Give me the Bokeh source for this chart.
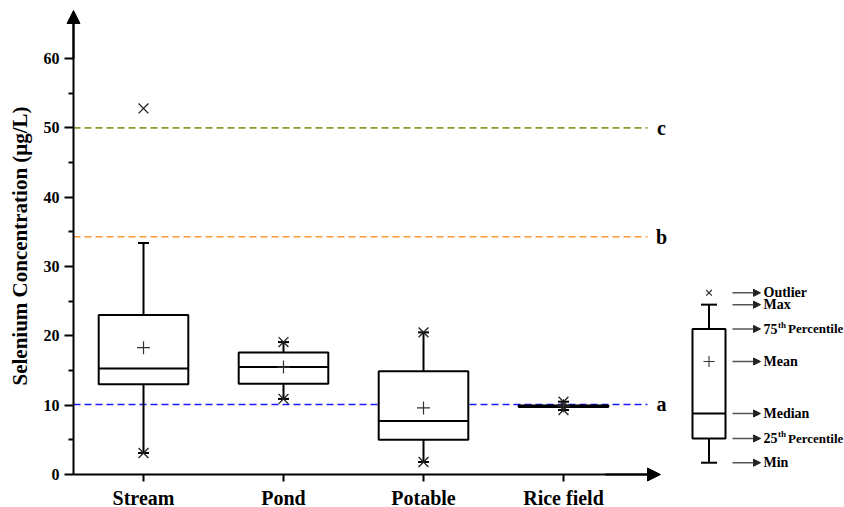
from bokeh.plotting import figure
from bokeh.models import (Range1d, LinearAxis, FixedTicker, Arrow, NormalHead,
                          ColumnDataSource)
from bokeh.core.properties import value
from bokeh.embed import file_html
from bokeh.resources import INLINE

# ---------------- data ----------------
categories = ["Stream", "Pond", "Potable", "Rice field"]
cat_pos = [1, 2, 3, 4]
q1 = [13.0, 13.1, 5.0, 9.75]
median = [15.3, 15.5, 7.7, 9.85]
q3 = [23.0, 17.6, 14.9, 9.95]
mean = [18.3, 15.5, 9.6, 9.9]
whisk_low = [3.1, 10.9, 1.8, 9.3]
whisk_high = [33.4, 19.1, 20.5, 10.5]

# asterisk-like markers (1st/99th percentile and outliers)
mark_cat = [1, 1, 2, 2, 3, 3, 4, 4]
mark_val = [3.1, 52.8, 19.1, 10.9, 20.5, 1.8, 10.5, 9.3]

# guideline values
ref_vals = [10.1, 34.3, 50.0]
ref_labels = ["a", "b", "c"]
ref_colors = ["#1a1aff", "#ff9933", "#8c9b2d"]

y_ticks = [0, 10, 20, 30, 40, 50, 60]
y_minor = [5, 15, 25, 35, 45, 55]

# schematic legend box values
leg_names = ["Outlier", "Max", "75", "Mean", "Median", "25", "Min"]
leg_vals = [26.2, 24.5, 21.0, 16.3, 8.8, 5.2, 1.7]

FONT = "Liberation Serif"
AXFONT = "'Liberation Serif', 'Times New Roman', serif"

# ---------------- geometry ----------------
PX_X = 140.0     # pixels per category unit
PX_Y = 6.933     # pixels per ug/L
W, H = 844, 507
x0 = 1 - 143 / PX_X
x1 = x0 + W / PX_X
y0 = -(H - 474) / PX_Y
y1 = y0 + H / PX_Y

p = figure(width=W, height=H, x_range=Range1d(x0, x1), y_range=Range1d(y0, y1),
           output_backend="svg", toolbar_location=None,
           x_axis_type=None, y_axis_type=None, min_border=0,
           min_border_left=0, min_border_right=0, min_border_top=0, min_border_bottom=0)
p.outline_line_color = None
p.background_fill_color = "white"
p.border_fill_color = "white"

x_axis_start = 1 + (73 - 143) / PX_X
x_tip = 1 + (660 - 143) / PX_X
y_tip = (474 - 10) / PX_Y

# ---------------- axes ----------------
yaxis = LinearAxis(fixed_location=x_axis_start, bounds=(0, y_tip - 1),
                   ticker=FixedTicker(ticks=y_ticks, minor_ticks=y_minor))
yaxis.axis_line_width = 2
yaxis.major_tick_line_width = 2
yaxis.minor_tick_line_width = 2
yaxis.major_tick_in = 0
yaxis.major_tick_out = 9
yaxis.minor_tick_in = 0
yaxis.minor_tick_out = 5
yaxis.major_label_text_font = AXFONT
yaxis.major_label_text_font_style = "bold"
yaxis.major_label_text_font_size = "16px"
yaxis.major_label_text_color = "black"
yaxis.major_label_standoff = 5
yaxis.axis_label = "Selenium Concentration (μg/L)"
yaxis.axis_label_text_font = AXFONT
yaxis.axis_label_text_font_style = "bold"
yaxis.axis_label_text_font_size = "21px"
yaxis.axis_label_text_color = "black"
yaxis.axis_label_standoff = 9
p.add_layout(yaxis, "left")

xaxis = LinearAxis(fixed_location=0, bounds=(x_axis_start, x_tip - 0.05),
                   ticker=FixedTicker(ticks=cat_pos, minor_ticks=[]))
xaxis.major_label_overrides = {c: n for c, n in zip(cat_pos, categories)}
xaxis.axis_line_width = 2
xaxis.major_tick_line_width = 2
xaxis.major_tick_in = 0
xaxis.major_tick_out = 7
xaxis.minor_tick_out = 0
xaxis.major_label_text_font = AXFONT
xaxis.major_label_text_font_style = "bold"
xaxis.major_label_text_font_size = "20px"
xaxis.major_label_text_color = "black"
xaxis.major_label_standoff = 5
p.add_layout(xaxis, "below")

p.add_layout(Arrow(x_start=x_axis_start, y_start=60, x_end=x_axis_start, y_end=y_tip,
                   line_width=2, line_color="black",
                   end=NormalHead(size=13, fill_color="black", line_color="black", line_width=1)))
p.add_layout(Arrow(x_start=4.3, y_start=0, x_end=x_tip, y_end=0,
                   line_width=2, line_color="black",
                   end=NormalHead(size=13, fill_color="black", line_color="black", line_width=1)))

# ---------------- reference lines ----------------
ref_x_end = 1 + (647 - 143) / PX_X
for v, lab, col in zip(ref_vals, ref_labels, ref_colors):
    p.segment(x0=[x_axis_start], y0=[v], x1=[ref_x_end], y1=[v], line_color=col,
              line_width=1.6, line_dash="7 4")
ref_src = ColumnDataSource(dict(x=[1 + (661 - 143) / PX_X] * 3, y=ref_vals, t=ref_labels))
p.text(x="x", y="y", text="t", source=ref_src, text_font=value(FONT),
       text_font_style="bold", text_font_size="20px", text_align="center",
       text_baseline="middle", text_color="black")

# ---------------- boxes ----------------
hw = 0.32
cap = 5.5 / PX_X
src = ColumnDataSource(dict(x=cat_pos, q1=q1, q3=q3, med=median, mean=mean,
                            lo=whisk_low, hi=whisk_high,
                            l=[c - hw for c in cat_pos], r=[c + hw for c in cat_pos],
                            cl=[c - cap for c in cat_pos], cr=[c + cap for c in cat_pos]))
p.segment(x0="x", y0="q3", x1="x", y1="hi", source=src, line_color="black", line_width=2)
p.segment(x0="x", y0="q1", x1="x", y1="lo", source=src, line_color="black", line_width=2)
p.segment(x0="cl", y0="hi", x1="cr", y1="hi", source=src, line_color="black", line_width=2)
p.segment(x0="cl", y0="lo", x1="cr", y1="lo", source=src, line_color="black", line_width=2)
p.quad(left="l", right="r", bottom="q1", top="q3", source=src, fill_color="white",
       line_color="black", line_width=2)
p.segment(x0="l", y0="med", x1="r", y1="med", source=src, line_color="black", line_width=2)
p.scatter(x="x", y="mean", source=src, marker="cross", size=13, line_width=1.2,
          line_color="#333333")
p.scatter(x=mark_cat, y=mark_val, marker="x", size=14, line_width=1.3, line_color="#222222")

# ---------------- schematic legend ----------------
lx = 1 + (708.5 - 143) / PX_X
lhw = 16.5 / PX_X
lcap = 8 / PX_X
o_, mx_, q3_, mn_, md_, q1_, mi_ = leg_vals
p.scatter(x=[lx], y=[o_], marker="x", size=8, line_width=1.2, line_color="#333333")
p.segment(x0=[lx, lx, lx - lcap, lx - lcap], y0=[mx_, q1_, mx_, mi_],
          x1=[lx, lx, lx + lcap, lx + lcap], y1=[q3_, mi_, mx_, mi_],
          line_color="black", line_width=2)
p.quad(left=[lx - lhw], right=[lx + lhw], bottom=[q1_], top=[q3_], fill_color="white",
       line_color="black", line_width=2)
p.segment(x0=[lx - lhw], y0=[md_], x1=[lx + lhw], y1=[md_], line_color="black", line_width=2)
p.scatter(x=[lx], y=[mn_], marker="cross", size=11, line_width=1.1, line_color="#333333")

ax0 = 1 + (732 - 143) / PX_X
ax1 = 1 + (760 - 143) / PX_X
for v in leg_vals:
    p.add_layout(Arrow(x_start=ax0, y_start=v, x_end=ax1, y_end=v, line_width=1.5,
                       line_color="#555555",
                       end=NormalHead(size=7, fill_color="#222222", line_color="#222222")))

tx = 1 + (763 - 143) / PX_X
leg_src = ColumnDataSource(dict(x=[tx] * len(leg_vals), y=leg_vals, t=leg_names))
p.text(x="x", y="y", text="t", source=leg_src, text_font=value(FONT),
       text_font_style="bold", text_font_size="14px", text_align="left",
       text_baseline="middle", text_color="black")
sup_src = ColumnDataSource(dict(x=[tx + 14.5 / PX_X] * 2, y=[q3_ + 4 / PX_Y, q1_ + 4 / PX_Y],
                                t=["th", "th"]))
p.text(x="x", y="y", text="t", source=sup_src, text_font=value(FONT),
       text_font_style="bold", text_font_size="9px", text_align="left",
       text_baseline="middle", text_color="black")
pc_src = ColumnDataSource(dict(x=[tx + 24.5 / PX_X] * 2, y=[q3_, q1_],
                               t=["Percentile", "Percentile"]))
p.text(x="x", y="y", text="t", source=pc_src, text_font=value(FONT),
       text_font_style="bold", text_font_size="13px", text_align="left",
       text_baseline="middle", text_color="black")

open("out.html", "w").write(file_html(p, INLINE))
